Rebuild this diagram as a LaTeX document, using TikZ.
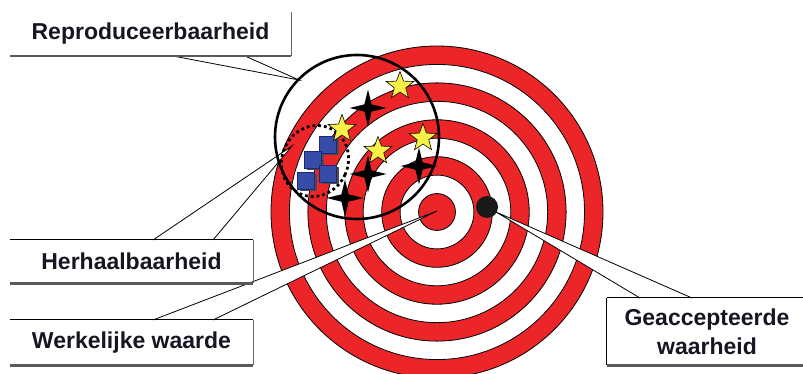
\documentclass[tikz,border=0pt]{standalone}
\usepackage{fontspec}
\setmainfont{Liberation Sans}
\usetikzlibrary{shapes.geometric}
\definecolor{tred}{RGB}{236,38,40}
\definecolor{tyel}{RGB}{247,240,70}
\definecolor{tblue}{RGB}{55,75,168}
\definecolor{tblueD}{RGB}{30,40,110}
\definecolor{ttext}{RGB}{22,22,34}
\tikzset{
  lbl/.style={fill=white, inner sep=0pt, font=\fontsize{23}{29}\selectfont\bfseries, text=ttext, align=center},
  wedge/.style={fill=white},
  wedgeline/.style={draw=black, line width=0.8pt},
  boxbottom/.style={line width=2.6pt, draw=black!65},
  boxright/.style={line width=1pt, draw=black!60},
  boxtop/.style={line width=0.8pt, draw=black},
  ystar/.style={star, star points=5, star point ratio=2.4, minimum size=29pt, inner sep=0pt, fill=tyel, draw=black, line width=0.6pt},
  kstar/.style={star, star points=4, star point ratio=3.6, minimum size=37pt, inner sep=0pt, fill=black},
  bsq/.style={minimum size=17pt, inner sep=0pt, fill=tblue, draw=tblueD, line width=0.8pt},
  bsqshadow/.style={minimum size=17pt, inner sep=0pt, fill=black!70}
}
\begin{document}
\begin{tikzpicture}[x=1pt,y=-1pt]
\useasboundingbox (0,0) rectangle (803,374);
\fill[white] (0,0) rectangle (803,374);

% target rings
\coordinate (C) at (437,212);
\foreach \k in {0,...,8} {
  \pgfmathsetmacro\r{166*(9-\k)/9}
  \pgfmathtruncatemacro\odd{mod(\k,2)}
  \ifnum\odd=0 \def\col{tred}\else\def\col{white}\fi
  \draw[fill=\col, line width=0.8pt] (C) circle[radius=\r];
}

% label boxes (nodes)
\node[lbl, minimum width=281pt, minimum height=44pt] (rep) at (150.5,34) {Reproduceerbaarheid};
\node[lbl, minimum width=243pt, minimum height=43pt] (her) at (131.5,261.5) {Herhaalbaarheid};
\node[lbl, minimum width=243pt, minimum height=45pt] (wer) at (131.5,342.5) {Werkelijke waarde};
\node[lbl, minimum width=200pt, minimum height=67pt] (gea) at (707,331.5) {Geaccepteerde\\waarheid};

% pointer coordinates
\coordinate (repA) at (173,56);  \coordinate (repB) at (245,56);  \coordinate (repT) at (299,80);
\coordinate (herA) at (153,240); \coordinate (herB) at (213,240); \coordinate (herT) at (292,146);
\coordinate (werA) at (153,320); \coordinate (werB) at (213,320); \coordinate (werT) at (437,211);
\coordinate (geaA) at (640,298); \coordinate (geaB) at (692,298); \coordinate (geaT) at (496,212);

% wedges
\foreach \n in {rep,her,wer,gea} {
  \fill[wedge] (\n A) -- (\n T) -- (\n B) -- cycle;
  \draw[wedgeline] (\n A) -- (\n T) -- (\n B);
}

% big reproducibility circle
\node[circle, draw=black, line width=2.6pt, minimum size=164pt, inner sep=0pt] (repc) at (357,137) {};

% dotted repeatability ellipse
\node[ellipse, draw=black, line width=2.8pt, dash pattern=on 2.8pt off 3pt, minimum width=66pt, minimum height=72pt, inner sep=0pt, rotate=-25] (herc) at (315,161) {};

% blue squares with shadows
\node[bsqshadow] (sh1) at (330,147) {};
\node[bsqshadow] (sh2) at (315,162) {};
\node[bsqshadow] (sh3) at (330,176) {};
\node[bsqshadow] (sh4) at (308,183) {};
\node[bsq] (sq1) at (328,145) {};
\node[bsq] (sq2) at (313,160) {};
\node[bsq] (sq3) at (328,174) {};
\node[bsq] (sq4) at (306,181) {};

% yellow stars
\node[ystar] (y1) at (400,86) {};
\node[ystar] (y2) at (342,129) {};
\node[ystar] (y3) at (423,138) {};
\node[ystar] (y4) at (378,151) {};

% black four-point stars
\node[kstar] (k1) at (368,108) {};
\node[kstar] (k2) at (368,174) {};
\node[kstar] (k3) at (419,166) {};
\node[kstar] (k4) at (345,198) {};

% accepted value dot
\node[circle, fill=black!90, minimum size=22pt, inner sep=0pt] (dot) at (487,207) {};

% box borders
\draw[boxtop] (her.north west) -- (her.north east);
\draw[boxtop] (wer.north west) -- (wer.north east);
\draw[boxtop] (gea.north west) -- (gea.north east);
\draw[boxtop] (gea.north west) -- (gea.south west);
\foreach \n in {rep,her,wer} {
  \draw[boxright] (\n.north east) -- (\n.south east);
}
\foreach \n in {rep,her,wer,gea} {
  \draw[boxbottom] (\n.south west) -- (\n.south east);
}
\end{tikzpicture}
\end{document}
